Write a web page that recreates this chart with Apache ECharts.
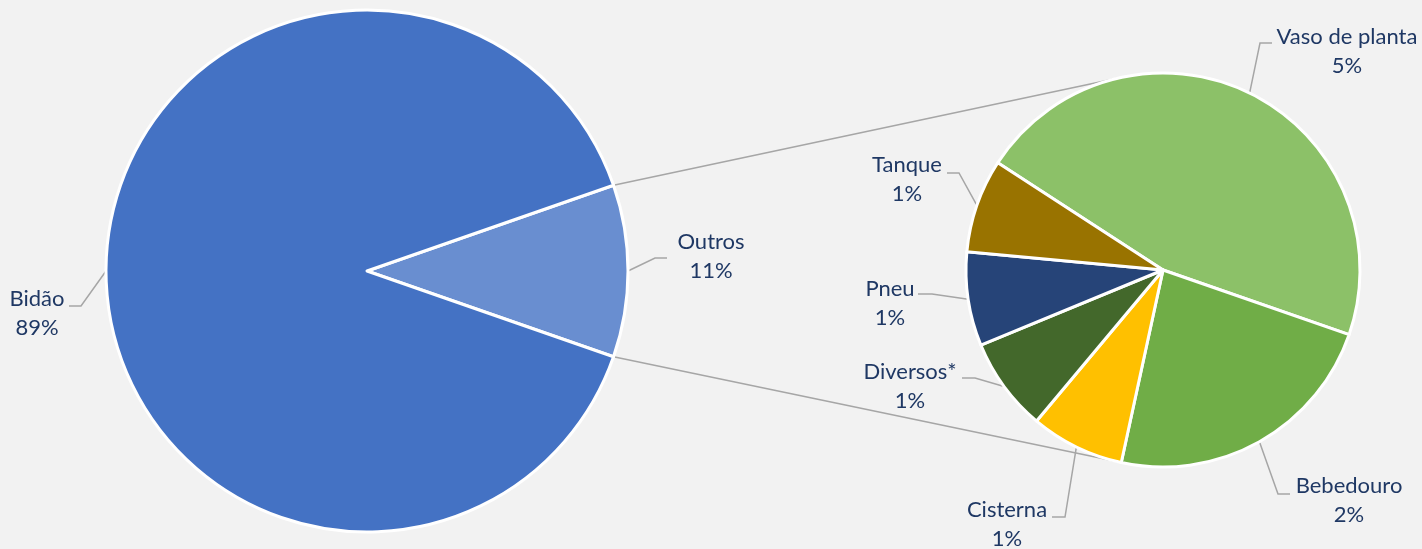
<!DOCTYPE html>
<html>
<head>
<meta charset="utf-8">
<script src="https://cdn.jsdelivr.net/npm/echarts@6/dist/echarts.min.js"></script>
<style>
  html, body { margin: 0; padding: 0; background: #f2f2f2; }
  #chart { width: 1422px; height: 549px; }
</style>
</head>
<body>
<div id="chart"></div>
<script>
  // pie principal
  let mainNames = ['Outros', 'Bidão'];
  let mainValues = [13, 109];
  let mainColors = ['#698ED0', '#4472C4'];

  // detalhe de "Outros"
  let otherNames = ['Vaso de planta', 'Bebedouro', 'Cisterna', 'Diversos*', 'Pneu', 'Tanque'];
  let otherValues = [6, 3, 1, 1, 1, 1];
  let otherColors = ['#8CC168', '#70AD47', '#FFC000', '#43682B', '#264478', '#997300'];

  // layout
  let mainCenter = [367, 271], mainRadius = 261;
  let subCenter = [1163, 270], subRadius = 197;
  let subStart = 147;
  let lineGray = '#A6A6A6';
  let textColor = '#1F3864';

  // onde fica cada rótulo (centro do texto) e o cotovelo/fim da linha guia
  let labelSpots = {
    'Bidão':          { at: [37, 313],   elbow: [81, 306],   end: [69, 306] },
    'Outros':         { at: [711, 256],  elbow: [655, 258],  end: [667, 258] },
    'Vaso de planta': { at: [1347, 51],  elbow: [1260, 43],  end: [1272, 43] },
    'Tanque':         { at: [907, 179],  elbow: [959, 173],  end: [947, 173] },
    'Pneu':           { at: [890, 303],  elbow: [932, 294],  end: [918, 294] },
    'Diversos*':      { at: [910, 386],  elbow: [975, 378],  end: [962, 378] },
    'Cisterna':       { at: [1007, 524], elbow: [1065, 517], end: [1052, 517] },
    'Bebedouro':      { at: [1349, 500], elbow: [1278, 494], end: [1290, 494] }
  };

  let total = mainValues.reduce((a, b) => a + b, 0);
  let outrosHalf = mainValues[0] / total * 180;

  function pct(v) {
    return Math.round(v / total * 100) + '%';
  }

  function makeLayout(names) {
    return function (params) {
      let spot = labelSpots[names[params.dataIndex]];
      let start = params.labelLinePoints ? params.labelLinePoints[0] : spot.elbow;
      return {
        x: spot.at[0],
        y: spot.at[1],
        align: 'center',
        verticalAlign: 'middle',
        labelLinePoints: [start, spot.elbow, spot.end]
      };
    };
  }

  // linhas de ligação: dos cantos da fatia "Outros" até as tangentes do pie secundário
  function connector(sign) {
    let a = outrosHalf * Math.PI / 180;
    let px = mainCenter[0] + mainRadius * Math.cos(a);
    let py = mainCenter[1] - sign * mainRadius * Math.sin(a);
    let dx = px - subCenter[0], dy = -(py - subCenter[1]);
    let d = Math.sqrt(dx * dx + dy * dy);
    let phi = Math.atan2(dy, dx);
    if (phi < 0) phi += Math.PI * 2;
    let beta = Math.acos(subRadius / d);
    let th = phi - sign * beta;
    let tx = subCenter[0] + subRadius * Math.cos(th);
    let ty = subCenter[1] - subRadius * Math.sin(th);
    return {
      type: 'line',
      z: 0,
      shape: { x1: px, y1: py, x2: tx, y2: ty },
      style: { stroke: lineGray, lineWidth: 1.5 }
    };
  }

  let labelStyle = {
    show: true,
    position: 'outside',
    color: textColor,
    fontFamily: 'Lato',
    fontSize: 22,
    lineHeight: 29,
    align: 'center',
    formatter: function (p) { return p.name + '\n' + pct(p.value); }
  };
  let guideStyle = {
    show: true,
    length: 10,
    length2: 10,
    lineStyle: { color: lineGray, width: 1.5 }
  };

  let chart = echarts.init(document.getElementById('chart'));
  let option = {
    backgroundColor: '#F2F2F2',
    animation: false,
    graphic: [connector(1), connector(-1)],
    series: [
      {
        type: 'pie',
        z: 2,
        center: mainCenter,
        radius: mainRadius,
        startAngle: outrosHalf,
        clockwise: true,
        avoidLabelOverlap: false,
        minShowLabelAngle: 0,
        itemStyle: { borderColor: '#ffffff', borderWidth: 3 },
        emphasis: { disabled: true },
        label: labelStyle,
        labelLine: guideStyle,
        labelLayout: makeLayout(mainNames),
        data: mainNames.map((n, i) => ({ name: n, value: mainValues[i], itemStyle: { color: mainColors[i] } }))
      },
      {
        type: 'pie',
        z: 2,
        center: subCenter,
        radius: subRadius,
        startAngle: subStart,
        clockwise: true,
        avoidLabelOverlap: false,
        minShowLabelAngle: 0,
        itemStyle: { borderColor: '#ffffff', borderWidth: 3 },
        emphasis: { disabled: true },
        label: labelStyle,
        labelLine: guideStyle,
        labelLayout: makeLayout(otherNames),
        data: otherNames.map((n, i) => ({ name: n, value: otherValues[i], itemStyle: { color: otherColors[i] } }))
      }
    ]
  };

  option && chart.setOption(option);
</script>
</body>
</html>
